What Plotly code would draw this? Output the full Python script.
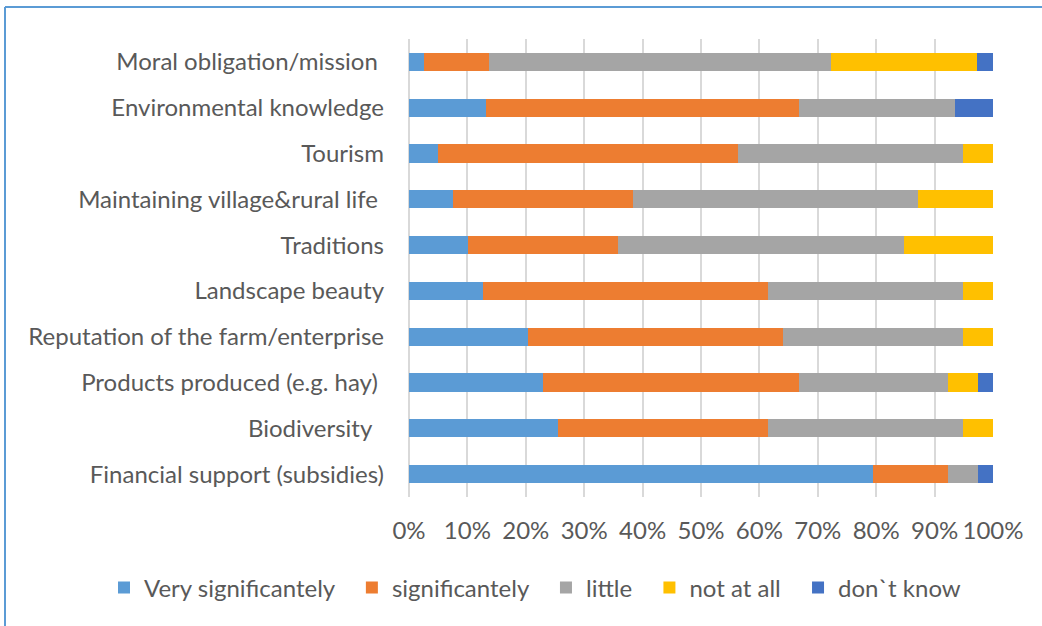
import plotly.graph_objects as go

categories = [
    "Moral obligation/mission\u00a0",
    "Environmental knowledge",
    "Tourism",
    "Maintaining village&rural life\u00a0",
    "Traditions",
    "Landscape beauty",
    "Reputation of the farm/enterprise",
    "Products produced (e.g. hay)\u00a0",
    "Biodiversity\u00a0\u00a0",
    "Financial support (subsidies)",
]

very_significantely = [2.6, 13.2, 5.0, 7.5, 10.1, 12.7, 20.4, 23.0, 25.5, 79.5]
significantely      = [11.1, 53.5, 51.4, 30.9, 25.7, 48.8, 43.7, 43.7, 36.0, 12.8]
little              = [58.6, 26.8, 38.5, 48.8, 48.9, 33.4, 30.8, 25.6, 33.4, 5.2]
not_at_all          = [25.0, 0.0, 5.1, 12.8, 15.3, 5.1, 5.1, 5.2, 5.1, 0.0]
dont_know           = [2.7, 6.5, 0.0, 0.0, 0.0, 0.0, 0.0, 2.5, 0.0, 2.5]

series_names = ["Very significantely", "significantely", "little", "not at all", "don`t know"]
series_values = [very_significantely, significantely, little, not_at_all, dont_know]
colors = ["#5B9BD5", "#ED7D31", "#A5A5A5", "#FFC000", "#4472C4"]

tick_vals = list(range(0, 101, 10))
tick_text = [f"{v}%" for v in tick_vals]

FONT = "Lato"
TXT = "#595959"
FS = 24

L, R, T, B = 409, 49, 39, 129
W, H = 1042, 626
PW, PH = W - L - R, H - T - B

fig = go.Figure()
n = len(series_names)
for i, (name, vals, col) in enumerate(zip(series_names, series_values, colors)):
    pad = "\u00a0\u00a0" if i < n - 1 else ""
    fig.add_trace(go.Bar(
        y=categories, x=vals, name=name + pad, orientation="h",
        marker=dict(color=col, line=dict(width=0)),
    ))

bx = (5 - L) / PW
by = 1 + (T - 7) / PH

fig.update_layout(
    width=W, height=H,
    barmode="stack", bargap=0.6,
    paper_bgcolor="white", plot_bgcolor="white",
    margin=dict(l=L, r=R, t=T, b=B, autoexpand=False),
    font=dict(family=FONT, size=FS, color=TXT),
    showlegend=True,
    legend=dict(
        orientation="h", xref="paper", yref="paper",
        x=(104 - L) / PW, xanchor="left",
        y=(T + PH - 588) / PH, yanchor="middle",
        font=dict(family=FONT, size=FS, color=TXT),
        traceorder="normal",
    ),
    shapes=[
        dict(type="line", xref="paper", yref="paper",
             x0=bx, x1=2.0, y0=by, y1=by,
             line=dict(color="#5B9BD5", width=2)),
        dict(type="line", xref="paper", yref="paper",
             x0=bx, x1=bx, y0=by, y1=-1.0,
             line=dict(color="#5B9BD5", width=2)),
    ],
)

fig.update_xaxes(
    range=[0, 100], tickvals=tick_vals, ticktext=tick_text,
    showgrid=True, gridcolor="#D9D9D9", gridwidth=1.5,
    zeroline=True, zerolinecolor="#D9D9D9", zerolinewidth=1.5,
    showline=False, ticks="", ticklabelstandoff=17,
    tickfont=dict(family=FONT, size=FS, color=TXT),
    fixedrange=True, automargin=False,
)
fig.update_yaxes(
    autorange="reversed", showgrid=False, showline=False, ticks="",
    ticklabelstandoff=24,
    tickfont=dict(family=FONT, size=FS, color=TXT),
    fixedrange=True, automargin=False,
)

fig.write_html(
    "out.html",
    config={"displayModeBar": False},
    post_script="document.body.style.margin='0px';",
)
